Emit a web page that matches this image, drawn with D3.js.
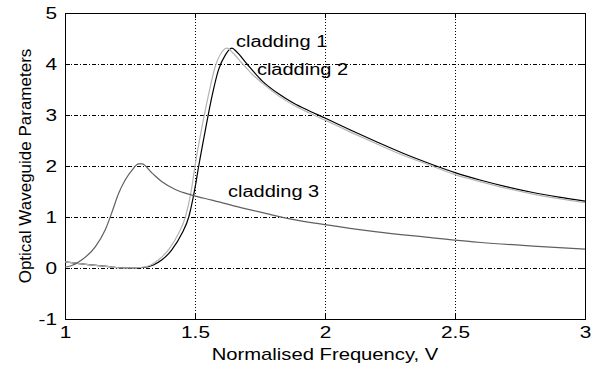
<!DOCTYPE html>
<html>
<head>
<meta charset="utf-8">
<script src="https://d3js.org/d3.v7.min.js"></script>
<style>
  body { margin: 0; background: #fff; }
  text { font-family: "Liberation Sans", Arial, sans-serif; fill: #000; }
</style>
</head>
<body>
<svg width="597" height="368"></svg>
<script>
// values
var xTicks = [1, 1.5, 2, 2.5, 3];
var yTicks = [-1, 0, 1, 2, 3, 4, 5];

var clad1X = [1.00, 1.08, 1.16, 1.24, 1.30, 1.34, 1.373, 1.41, 1.45, 1.476, 1.50, 1.514, 1.54, 1.565, 1.59, 1.617, 1.642, 1.66, 1.70, 1.76, 1.82, 1.88, 1.94, 2.00, 2.10, 2.20, 2.30, 2.417, 2.50, 2.60, 2.70, 2.80, 2.90, 3.00];
var clad1Y = [0.12, 0.07, 0.03, 0.00, 0.01, 0.06, 0.16, 0.35, 0.68, 1.00, 1.57, 1.99, 2.71, 3.36, 3.88, 4.18, 4.31, 4.24, 4.00, 3.66, 3.42, 3.23, 3.08, 2.94, 2.70, 2.47, 2.25, 2.02, 1.87, 1.72, 1.59, 1.48, 1.39, 1.31];

var clad2X = [1.00, 1.08, 1.16, 1.23, 1.29, 1.33, 1.36, 1.40, 1.437, 1.463, 1.488, 1.50, 1.527, 1.553, 1.578, 1.604, 1.623, 1.645, 1.68, 1.72, 1.76, 1.82, 1.88, 1.94, 2.00, 2.10, 2.20, 2.30, 2.40, 2.50, 2.60, 2.70, 2.80, 2.90, 3.00];
var clad2Y = [0.12, 0.07, 0.03, 0.00, 0.01, 0.06, 0.16, 0.37, 0.68, 1.00, 1.59, 2.00, 2.77, 3.42, 3.95, 4.24, 4.31, 4.22, 4.02, 3.80, 3.62, 3.38, 3.19, 3.04, 2.90, 2.66, 2.43, 2.21, 2.02, 1.83, 1.69, 1.56, 1.45, 1.36, 1.28];

var clad3X = [1.00, 1.014, 1.065, 1.117, 1.155, 1.181, 1.206, 1.232, 1.258, 1.283, 1.296, 1.335, 1.373, 1.424, 1.488, 1.565, 1.68, 1.78, 1.87, 2.00, 2.20, 2.40, 2.50, 2.60, 2.80, 3.00];
var clad3Y = [0.02, 0.03, 0.16, 0.42, 0.75, 1.10, 1.46, 1.73, 1.92, 2.04, 2.04, 1.86, 1.69, 1.54, 1.43, 1.33, 1.18, 1.06, 0.96, 0.85, 0.71, 0.60, 0.545, 0.50, 0.43, 0.37];

var labelText = ["cladding 1", "cladding 2", "cladding 3"];
var labelX = [1.658, 1.738, 1.627];
var labelY = [4.33, 3.78, 1.39];

var series = [
  { xs: clad1X, ys: clad1Y, color: "#000000" },
  { xs: clad2X, ys: clad2Y, color: "#b4b4b4" },
  { xs: clad3X, ys: clad3Y, color: "#606060" }
];

var L = 65, R = 585, T = 13, B = 319;
var svg = d3.select("svg");

var x = d3.scaleLinear().domain([1, 3]).range([L, R]);
var y = d3.scaleLinear().domain([-1, 5]).range([B, T]);

// grid
svg.append("g").selectAll("line")
  .data(xTicks.filter(function(d) { return d > 1 && d < 3; }))
  .enter().append("line")
  .attr("x1", function(d) { return Math.round(x(d)) + 0.5; })
  .attr("x2", function(d) { return Math.round(x(d)) + 0.5; })
  .attr("y1", T).attr("y2", B)
  .attr("stroke", "#000").attr("stroke-dasharray", "1,2");

svg.append("g").selectAll("line")
  .data(yTicks.filter(function(d) { return d > -1 && d < 5; }))
  .enter().append("line")
  .attr("y1", function(d) { return Math.round(y(d)) + 0.5; })
  .attr("y2", function(d) { return Math.round(y(d)) + 0.5; })
  .attr("x1", L).attr("x2", R)
  .attr("stroke", "#000").attr("stroke-dasharray", "4,2,1,2");

// axes (ticks inside)
var fmt = function(d) { return String(d); };
var gx = svg.append("g").attr("transform", "translate(0," + B + ")")
  .call(d3.axisBottom(x).tickValues(xTicks).tickSizeInner(-5).tickSizeOuter(0).tickFormat(fmt));
var gxTop = svg.append("g").attr("transform", "translate(0," + T + ")")
  .call(d3.axisTop(x).tickValues(xTicks).tickSizeInner(-5).tickSizeOuter(0).tickFormat(""));
var gy = svg.append("g").attr("transform", "translate(" + L + ",0)")
  .call(d3.axisLeft(y).tickValues(yTicks).tickSizeInner(-5).tickSizeOuter(0).tickFormat(fmt));
var gyR = svg.append("g").attr("transform", "translate(" + R + ",0)")
  .call(d3.axisRight(y).tickValues(yTicks).tickSizeInner(-5).tickSizeOuter(0).tickFormat(""));

[gx, gxTop, gy, gyR].forEach(function(g) {
  g.select(".domain").remove();
  g.selectAll("line").attr("stroke", "#000").attr("shape-rendering", "crispEdges");
});

gx.selectAll("text")
  .attr("y", 0).attr("dy", null)
  .attr("transform", "translate(0,19) scale(1.3,1)")
  .style("font-size", "16px");

gy.selectAll("text")
  .attr("x", 0).attr("dy", "0.35em")
  .attr("text-anchor", "end")
  .attr("transform", "translate(-8,0) scale(1.3,1)")
  .style("font-size", "16px");

svg.selectAll("g text").attr("fill", "#000").attr("font-family", "Liberation Sans, Arial, sans-serif");

// box
svg.append("rect")
  .attr("x", L + 0.5).attr("y", T + 0.5)
  .attr("width", R - L).attr("height", B - T)
  .attr("fill", "none").attr("stroke", "#000");

// curves
var line = d3.line()
  .x(function(d) { return x(d[0]); })
  .y(function(d) { return y(d[1]); })
  .curve(d3.curveMonotoneX);

series.forEach(function(s) {
  svg.append("path")
    .datum(d3.zip(s.xs, s.ys))
    .attr("d", line)
    .attr("fill", "none")
    .attr("stroke", s.color)
    .attr("stroke-width", 1.2);
});

// curve labels
labelText.forEach(function(t, i) {
  svg.append("text")
    .attr("transform", "translate(" + x(labelX[i]) + "," + y(labelY[i]) + ") scale(1.25,1)")
    .style("font-size", "16px")
    .text(t);
});

// axis titles
svg.append("text")
  .attr("transform", "translate(" + ((L + R) / 2) + ",360) scale(1.19,1)")
  .attr("text-anchor", "middle")
  .style("font-size", "17px")
  .text("Normalised Frequency, V");

svg.append("text")
  .attr("transform", "translate(31," + ((T + B) / 2) + ") rotate(-90)")
  .attr("text-anchor", "middle")
  .style("font-size", "17px")
  .text("Optical Waveguide Parameters");
</script>
</body>
</html>
